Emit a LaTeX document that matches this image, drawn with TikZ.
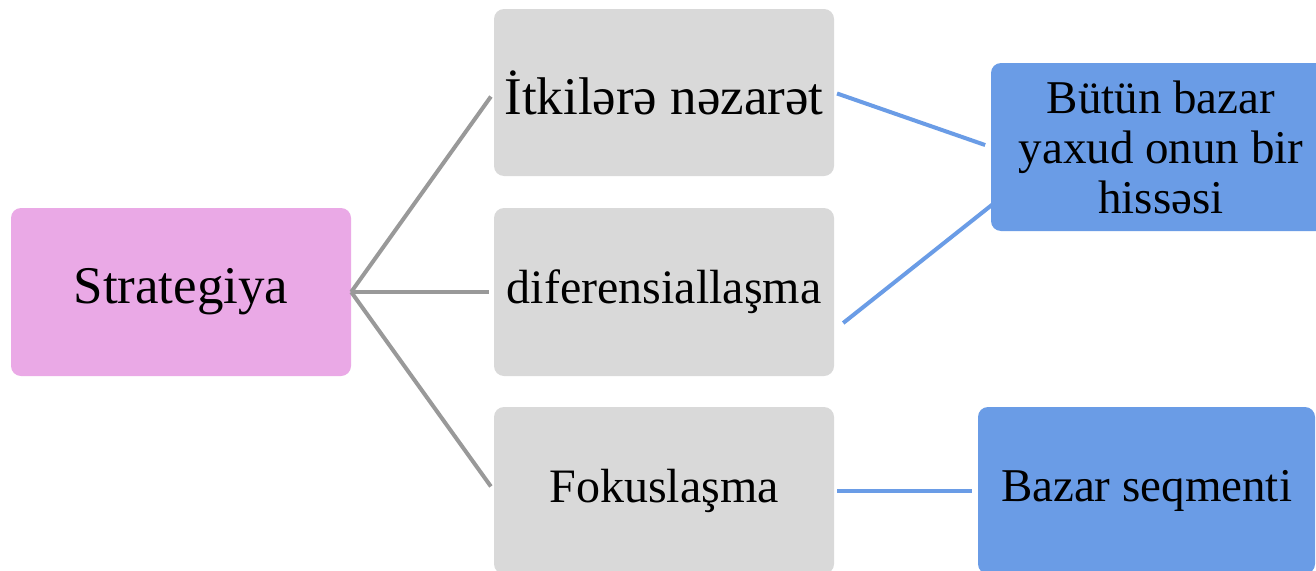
\documentclass[tikz,border=0pt]{standalone}
\usepackage{fontspec}
\setmainfont{Liberation Serif}
\usetikzlibrary{calc}
\definecolor{rootfill}{HTML}{EAA9E6}
\definecolor{midfill}{HTML}{D9D9D9}
\definecolor{leaffill}{HTML}{6A9CE6}
\definecolor{greyline}{HTML}{999999}
\definecolor{blueline}{HTML}{6A9CE6}
\tikzset{
  card/.style={rectangle, rounded corners=10pt, inner sep=0pt, align=center, text=black},
  rootbox/.style={card, fill=rootfill, minimum width=340, minimum height=168, font=\fontsize{53}{60}\selectfont},
  midbox/.style={card, fill=midfill, minimum width=340, minimum height=167, font=\fontsize{48}{56}\selectfont},
  leafbox/.style={card, fill=leaffill, minimum height=168, font=\fontsize{47}{50}\selectfont},
  greylink/.style={draw=greyline, line width=4pt},
  bluelink/.style={draw=blueline, line width=4pt},
}
\begin{document}
\begin{tikzpicture}[x=1pt, y=-1pt]
  \clip (0,0) rectangle (1316,570);
  \fill[white] (0,0) rectangle (1316,570);

  % main strategy box and its three variants
  \node[rootbox] (strat) at (181,292) {Strategiya};
  \node[midbox, font=\fontsize{53}{58}\selectfont] (cost) at (664,92.5) {İtkilərə nəzarət};
  \node[midbox, minimum height=168] (diff) at (664,292) {diferensiallaşma};
  \node[midbox] (focus) at (664,490.5) {Fokuslaşma};

  % market scope boxes
  \node[leafbox, minimum width=340] (whole) at (1161,147) {Bütün bazar\\yaxud onun bir\\hissəsi};
  \node[leafbox, minimum width=337, minimum height=167] (segment) at (1146.5,490.5) {Bazar seqmenti};

  % connectors from the strategy box
  \draw[greylink, shorten >=5pt] (strat.east) -- (cost.west);
  \draw[greylink, shorten >=5pt] (strat.east) -- (diff.west);
  \draw[greylink, shorten >=5pt] (strat.east) -- (focus.west);

  % connectors to the market scope boxes
  \coordinate (diffout) at ($(diff.east)+(9,31)$);
  \coordinate (wholein) at ($(whole.south west)+(2,-27)$);
  \draw[bluelink, shorten <=3pt, shorten >=6pt] (cost.east) -- (whole.west);
  \draw[bluelink] (diffout) -- (wholein);
  \draw[bluelink, shorten <=3pt, shorten >=6pt] (focus.east) -- (segment.west);
\end{tikzpicture}
\end{document}
